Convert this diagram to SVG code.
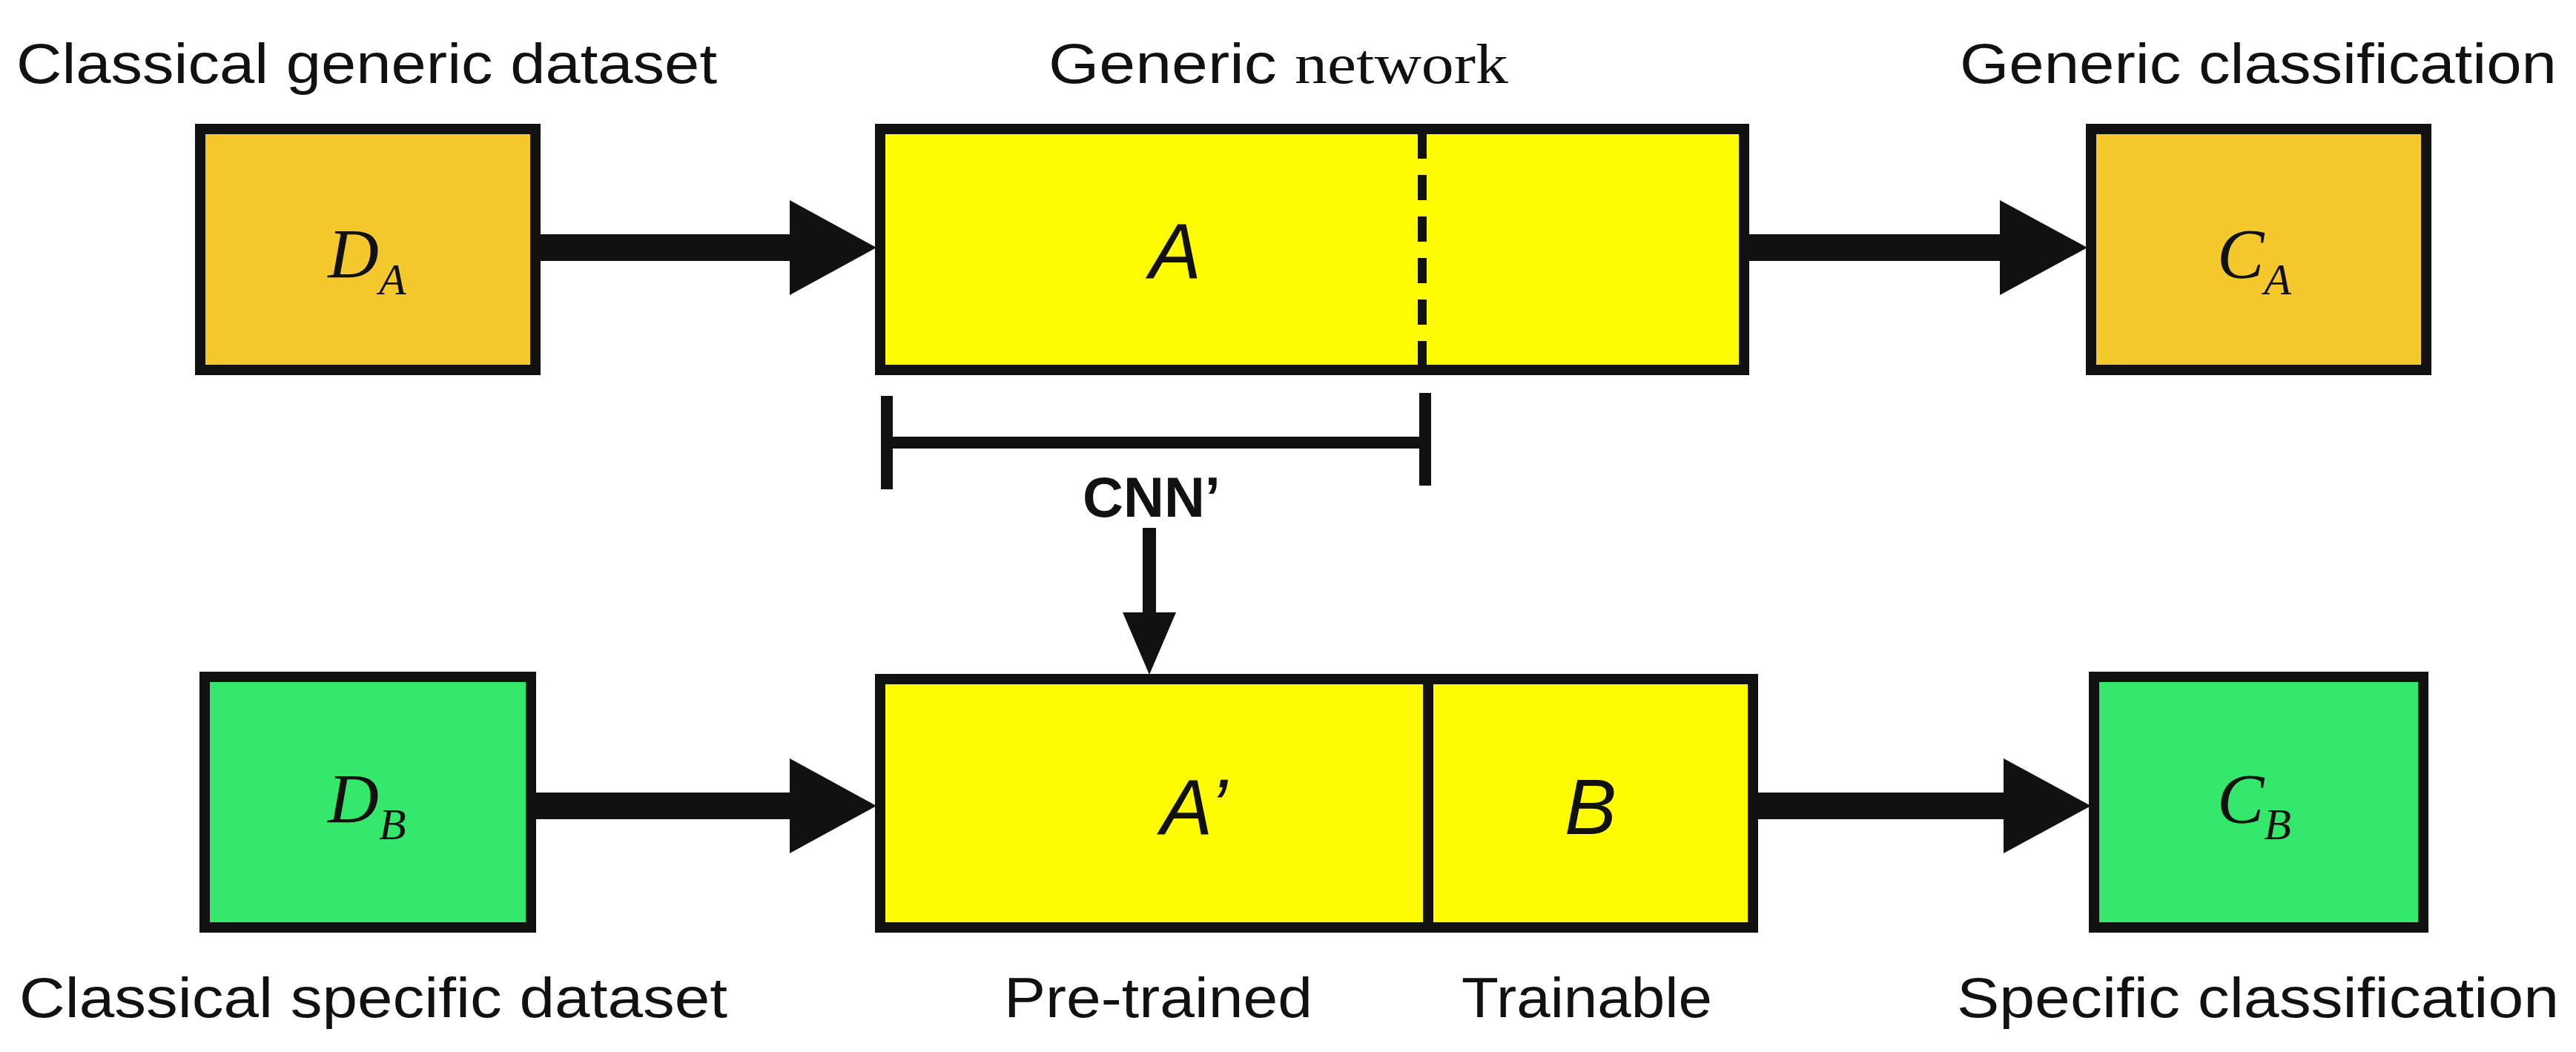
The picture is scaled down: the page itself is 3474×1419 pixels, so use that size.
<svg xmlns="http://www.w3.org/2000/svg" width="3474" height="1419" viewBox="0 0 3474 1419">
<style>
.lbl{font-family:"Liberation Sans",Arial,sans-serif;font-size:76px;fill:#111}
.sym{font-family:"Liberation Serif","Times New Roman",serif;font-style:italic;font-size:95px;fill:#111;text-anchor:middle}
.big{font-family:"Liberation Sans",Arial,sans-serif;font-style:italic;font-size:105px;fill:#111;text-anchor:middle}
.box{stroke:#111;stroke-width:14}
.ln{stroke:#111;fill:none}
.arr{fill:#111}
</style>
<rect width="3474" height="1419" fill="#fff"/>
<text class="lbl" x="22" y="112" textLength="945" lengthAdjust="spacingAndGlyphs">Classical generic dataset</text>
<text class="lbl" x="1414" y="112" textLength="620" lengthAdjust="spacingAndGlyphs">Generic <tspan font-family="Liberation Serif,serif">network</tspan></text>
<text class="lbl" x="2643" y="112" textLength="805" lengthAdjust="spacingAndGlyphs">Generic classification</text>
<g id="DA"><rect class="box" x="270" y="174" width="452" height="325" fill="#F5C82C"/><text class="sym" x="495" y="375">D<tspan font-size="60" dy="22">A</tspan></text></g>
<g id="A"><rect class="box" x="1187" y="174" width="1165" height="325" fill="#FFFB00"/><line x1="1918" y1="180" x2="1918" y2="495" stroke="#111" stroke-width="12" stroke-dasharray="34,22"/><text class="big" x="1585" y="375">A</text></g>
<g id="CA"><rect class="box" x="2820" y="174" width="452" height="325" fill="#F5C82C"/><text class="sym" x="3040" y="375">C<tspan font-size="60" dy="22">A</tspan></text></g>
<g id="DB"><rect class="box" x="276" y="913" width="440" height="338" fill="#33E86B"/><text class="sym" x="495" y="1110">D<tspan font-size="60" dy="22">B</tspan></text></g>
<g id="Ap"><rect class="box" x="1187" y="916" width="739" height="335" fill="#FFFB00"/><text class="big" x="1610" y="1125">A’</text></g>
<g id="B"><rect class="box" x="1926" y="916" width="438" height="335" fill="#FFFB00"/><text class="big" x="2145" y="1125">B</text></g>
<g id="CB"><rect class="box" x="2824" y="913" width="444" height="338" fill="#33E86B"/><text class="sym" x="3040" y="1110">C<tspan font-size="60" dy="22">B</tspan></text></g>
<g id="connectors">
<path class="arr" d="M722,316 H1065 V270 L1182,334 L1065,398 V352 H722 Z"/>
<path class="arr" d="M2352,316 H2697 V270 L2815,334 L2697,398 V352 H2352 Z"/>
<path class="arr" d="M716,1069 H1065 V1023 L1182,1087 L1065,1151 V1105 H716 Z"/>
<path class="arr" d="M2364,1069 H2702 V1023 L2820,1087 L2702,1151 V1105 H2364 Z"/>
<path class="arr" d="M1541,712 H1559 V826 H1586 L1550,910 L1514,826 H1541 Z"/>
<g id="bracket"><line class="ln" x1="1196" y1="597" x2="1922" y2="597" stroke-width="16"/><line class="ln" x1="1196" y1="534" x2="1196" y2="660" stroke-width="16"/><line class="ln" x1="1922" y1="530" x2="1922" y2="655" stroke-width="16"/></g>
</g>
<text class="lbl" x="1553" y="697" font-weight="bold" font-size="60" text-anchor="middle">CNN’</text>
<text class="lbl" x="26" y="1372" textLength="955" lengthAdjust="spacingAndGlyphs">Classical specific dataset</text>
<text class="lbl" x="1354" y="1372" textLength="416" lengthAdjust="spacingAndGlyphs">Pre-trained</text>
<text class="lbl" x="1971" y="1372" textLength="338" lengthAdjust="spacingAndGlyphs">Trainable</text>
<text class="lbl" x="2639" y="1372" textLength="812" lengthAdjust="spacingAndGlyphs">Specific classification</text>
</svg>
